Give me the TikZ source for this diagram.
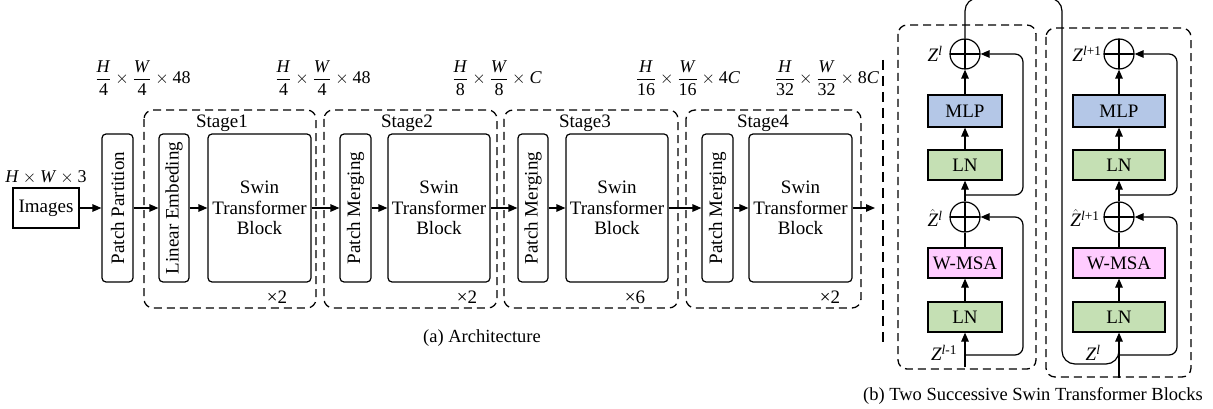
\documentclass[tikz,border=0pt]{standalone}
\usepackage{fontspec}
\setmainfont{Liberation Serif}
\usetikzlibrary{arrows.meta}
\definecolor{mlpblue}{HTML}{B4C7E7}
\definecolor{lngreen}{HTML}{C5E0B4}
\definecolor{msapink}{HTML}{FFCCFF}
\newcommand\mydim[4]{$\displaystyle\frac{\mbox{\textit{#1}}}{\mbox{#2}}\times\frac{\mbox{\textit{#3}}}{\mbox{#2}}\times\mbox{#4}$}
\begin{document}
\begin{tikzpicture}[x=1pt,y=-1pt,line width=1.2pt,
  >={Triangle[length=9pt,width=7.5pt]},
  every node/.style={font=\fontsize{19}{20.5}\selectfont},
  box/.style={draw,inner sep=0pt,align=center},
  rbox/.style={box,rounded corners=4pt},
  vbox/.style={rbox,rotate=90,minimum width=148pt,minimum height=31pt},
  swinbox/.style={rbox,minimum height=148pt},
  stagebox/.style={draw,dash pattern=on 8pt off 5pt,line width=1.3pt,rounded corners=9pt},
  blk/.style={box,minimum height=30pt},
  addnode/.style={circle,draw,minimum size=30pt,inner sep=0pt,
    path picture={\draw (path picture bounding box.north) -- (path picture bounding box.south)
      (path picture bounding box.west) -- (path picture bounding box.east);}},
  zlab/.style={font=\fontsize{19}{20}\selectfont,inner sep=1pt},
  dimlab/.style={font=\fontsize{18}{20}\selectfont,inner sep=1pt},
  captext/.style={font=\fontsize{18.5}{20}\selectfont}]
\useasboundingbox (0,0) rectangle (1213,409);
\clip (0,0) rectangle (1213,409);

% ---------------- (a) Architecture ----------------
\node[box,minimum width=66pt,minimum height=40pt] (img) at (46,208) {Images};
\node[dimlab] (imgdim) at (46,177) {$\mbox{\textit{H}}\times\mbox{\textit{W}}\times\mbox{3}$};
\node[vbox] (pp) at (117.5,208) {Patch Partition};

% dimension labels
\node[dimlab] (d1) at (143,78) {\mydim{H}{4}{W}{48}};
\node[dimlab] (d2) at (323,78) {\mydim{H}{4}{W}{48}};
\node[dimlab] (d3) at (497,78) {\mydim{H}{8}{W}{\textit{C}}};
\node[dimlab] (d4) at (688,78) {\mydim{H}{16}{W}{4\textit{C}}};
\node[dimlab] (d5) at (827,78) {\mydim{H}{32}{W}{8\textit{C}}};

% Stage 1
\draw[stagebox] (144,110) rectangle (316,308);
\node (st1) at (222,123) {Stage1};
\node[vbox,minimum height=30pt] (le) at (174,208) {Linear Embeding};
\node[swinbox,minimum width=103pt] (sw1) at (259.5,208) {Swin\\Transformer\\Block};
\node (r1) at (277,297) {×2};

% Stage 2
\draw[stagebox] (324,110) rectangle (497,308);
\node (st2) at (407,123) {Stage2};
\node[vbox] (pm2) at (355.5,208) {Patch Merging};
\node[swinbox,minimum width=102pt] (sw2) at (439,208) {Swin\\Transformer\\Block};
\node (r2) at (467,297) {×2};

% Stage 3
\draw[stagebox] (504,110) rectangle (678,308);
\node (st3) at (585,123) {Stage3};
\node[vbox,minimum height=30pt] (pm3) at (533,208) {Patch Merging};
\node[swinbox,minimum width=102pt] (sw3) at (617,208) {Swin\\Transformer\\Block};
\node (r3) at (635,297) {×6};

% Stage 4
\draw[stagebox] (686,110) rectangle (861,308);
\node (st4) at (763,123) {Stage4};
\node[vbox] (pm4) at (717.5,208) {Patch Merging};
\node[swinbox,minimum width=103pt] (sw4) at (800.5,208) {Swin\\Transformer\\Block};
\node (r4) at (830,297) {×2};
\coordinate (out) at (875,208);

\draw[->] (img) -- (pp);
\draw[->] (pp) -- (le);
\draw[->] (le) -- (sw1);
\draw[->] (sw1) -- (pm2);
\draw[->] (pm2) -- (sw2);
\draw[->] (sw2) -- (pm3);
\draw[->] (pm3) -- (sw3);
\draw[->] (sw3) -- (pm4);
\draw[->] (pm4) -- (sw4);
\draw[->] (sw4) -- (out);

\node[captext] (capa) at (482,338) {(a) Architecture};

% separator
\draw[line width=2.6pt,dash pattern=on 10pt off 6pt] (883,60) -- (883,343);

% ---------------- (b) Blocks ----------------
\draw[stagebox] (898,25) rectangle (1036,369);
\draw[stagebox] (1046,28) rectangle (1191,377);

% block 1
\node[addnode] (a1) at (965,54) {};
\node[blk,fill=mlpblue,minimum width=74pt,minimum height=32pt] (mlp1) at (965,111) {MLP};
\node[blk,fill=lngreen,minimum width=74pt] (lnb1) at (965,165) {LN};
\node[addnode] (a2) at (965,217) {};
\node[blk,fill=msapink,minimum width=74pt] (msa1) at (965,263) {W-MSA};
\node[blk,fill=lngreen,minimum width=74pt] (lna1) at (965,317) {LN};
\coordinate (in1) at (965,367);
\coordinate (s1a) at (965,355);
\coordinate (s1b) at (965,195);
\node[zlab] (z1) at (935,54) {\textit{Z}\textsuperscript{\textit{l}}};
\node[zlab] (zh1) at (935,218) {$\hat{\mbox{\textit{Z}}}$\textsuperscript{\textit{l}}};
\node[zlab] (z0) at (944,353) {\textit{Z}\textsuperscript{\textit{l}-1}};

\draw[->] (in1) -- (lna1);
\draw[->] (lna1) -- (msa1);
\draw (msa1) -- (a2);
\draw[->] (a2) -- (lnb1);
\draw[->] (lnb1) -- (mlp1);
\draw[->] (mlp1) -- (a1);
\draw[->,rounded corners=8pt] (s1a) -- (1023,355) -- (1023,217) -- (a2.east);
\draw[->,rounded corners=8pt] (s1b) -- (1023,195) -- (1023,54) -- (a1.east);

% block 2
\node[addnode] (b1) at (1119,54) {};
\node[blk,fill=mlpblue,minimum width=92pt,minimum height=32pt] (mlp2) at (1119,111) {MLP};
\node[blk,fill=lngreen,minimum width=92pt] (lnb2) at (1119,165) {LN};
\node[addnode] (b2) at (1119,217) {};
\node[blk,fill=msapink,minimum width=92pt] (msa2) at (1119,263) {W-MSA};
\node[blk,fill=lngreen,minimum width=92pt] (lna2) at (1119,317) {LN};
\coordinate (in2) at (1119,378);
\coordinate (t1a) at (1119,355);
\coordinate (t1b) at (1119,195);
\coordinate (join) at (1119,345);
\node[zlab] (z2) at (1087,54) {\textit{Z}\textsuperscript{\textit{l}+1}};
\node[zlab] (zh2) at (1085,218) {$\hat{\mbox{\textit{Z}}}$\textsuperscript{\textit{l}+1}};
\node[zlab] (zl) at (1093,353) {\textit{Z}\textsuperscript{\textit{l}}};

\draw[->] (in2) -- (lna2);
\draw[->] (lna2) -- (msa2);
\draw (msa2) -- (b2);
\draw[->] (b2) -- (lnb2);
\draw[->] (lnb2) -- (mlp2);
\draw[->] (mlp2) -- (b1);
\draw[->,rounded corners=8pt] (t1a) -- (1177,355) -- (1177,217) -- (b2.east);
\draw[->,rounded corners=8pt] (t1b) -- (1177,195) -- (1177,54) -- (b1.east);

% connection block 1 -> block 2
\draw[rounded corners=13pt] (a1.north) -- (965,-2) -- (1062,-2) -- (1062,364) -- (1119,364) -- (join);

\node[captext] (capb) at (1033,396) {(b) Two Successive Swin Transformer Blocks};
\end{tikzpicture}
\end{document}
